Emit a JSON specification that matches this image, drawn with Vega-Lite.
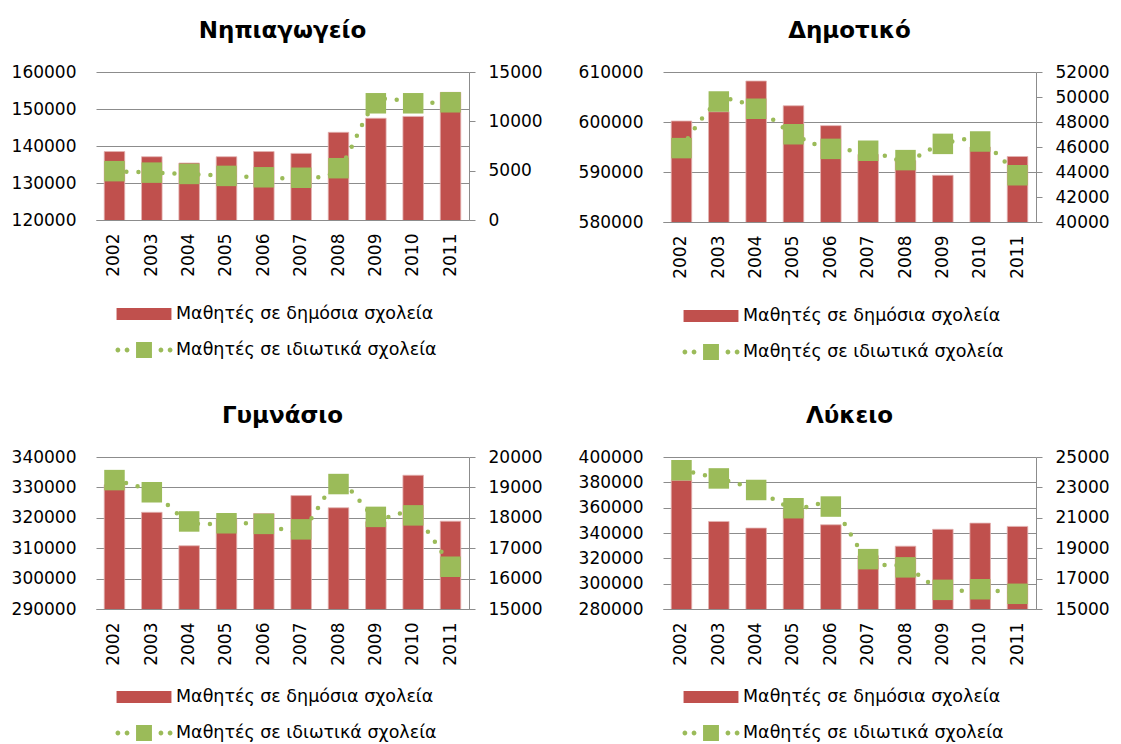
{
  "$schema": "https://vega.github.io/schema/vega-lite/v6.json",
  "background": "white",
  "padding": {"left": 11, "top": 20, "right": 4, "bottom": 0},
  "data": {"values": [
    {"level": "Νηπιαγωγείο", "year": "2002", "pub": 138500, "priv": 4950},
    {"level": "Νηπιαγωγείο", "year": "2003", "pub": 137100, "priv": 4800},
    {"level": "Νηπιαγωγείο", "year": "2004", "pub": 135400, "priv": 4670},
    {"level": "Νηπιαγωγείο", "year": "2005", "pub": 137100, "priv": 4470},
    {"level": "Νηπιαγωγείο", "year": "2006", "pub": 138500, "priv": 4330},
    {"level": "Νηπιαγωγείο", "year": "2007", "pub": 138000, "priv": 4280},
    {"level": "Νηπιαγωγείο", "year": "2008", "pub": 143700, "priv": 5250},
    {"level": "Νηπιαγωγείο", "year": "2009", "pub": 147500, "priv": 11830},
    {"level": "Νηπιαγωγείο", "year": "2010", "pub": 148000, "priv": 11830},
    {"level": "Νηπιαγωγείο", "year": "2011", "pub": 154500, "priv": 11930},
    {"level": "Δημοτικό", "year": "2002", "pub": 600200, "priv": 45910},
    {"level": "Δημοτικό", "year": "2003", "pub": 602050, "priv": 49640},
    {"level": "Δημοτικό", "year": "2004", "pub": 608200, "priv": 49060},
    {"level": "Δημοτικό", "year": "2005", "pub": 603250, "priv": 47020},
    {"level": "Δημοτικό", "year": "2006", "pub": 599270, "priv": 45850},
    {"level": "Δημοτικό", "year": "2007", "pub": 593500, "priv": 45700},
    {"level": "Δημοτικό", "year": "2008", "pub": 592300, "priv": 44950},
    {"level": "Δημοτικό", "year": "2009", "pub": 589340, "priv": 46250},
    {"level": "Δημοτικό", "year": "2010", "pub": 595000, "priv": 46440},
    {"level": "Δημοτικό", "year": "2011", "pub": 593100, "priv": 43740},
    {"level": "Γυμνάσιο", "year": "2002", "pub": 330900, "priv": 19240},
    {"level": "Γυμνάσιο", "year": "2003", "pub": 321800, "priv": 18840},
    {"level": "Γυμνάσιο", "year": "2004", "pub": 310800, "priv": 17880},
    {"level": "Γυμνάσιο", "year": "2005", "pub": 319700, "priv": 17820},
    {"level": "Γυμνάσιο", "year": "2006", "pub": 321400, "priv": 17800},
    {"level": "Γυμνάσιο", "year": "2007", "pub": 327300, "priv": 17620},
    {"level": "Γυμνάσιο", "year": "2008", "pub": 323300, "priv": 19110},
    {"level": "Γυμνάσιο", "year": "2009", "pub": 318700, "priv": 18030},
    {"level": "Γυμνάσιο", "year": "2010", "pub": 334000, "priv": 18080},
    {"level": "Γυμνάσιο", "year": "2011", "pub": 318900, "priv": 16390},
    {"level": "Λύκειο", "year": "2002", "pub": 381700, "priv": 24130},
    {"level": "Λύκειο", "year": "2003", "pub": 349100, "priv": 23590},
    {"level": "Λύκειο", "year": "2004", "pub": 343900, "priv": 22830},
    {"level": "Λύκειο", "year": "2005", "pub": 358500, "priv": 21630},
    {"level": "Λύκειο", "year": "2006", "pub": 346500, "priv": 21740},
    {"level": "Λύκειο", "year": "2007", "pub": 322000, "priv": 18280},
    {"level": "Λύκειο", "year": "2008", "pub": 329600, "priv": 17740},
    {"level": "Λύκειο", "year": "2009", "pub": 342900, "priv": 16260},
    {"level": "Λύκειο", "year": "2010", "pub": 347800, "priv": 16300},
    {"level": "Λύκειο", "year": "2011", "pub": 345200, "priv": 16000}
  ]},
  "columns": 2,
  "spacing": {"row": 44, "column": 35},
  "concat": [
    {
      "title": "Νηπιαγωγείο",
      "width": 373, "height": 148,
      "transform": [{"filter": "datum.level == 'Νηπιαγωγείο'"}],
      "encoding": {"x": {"field": "year", "type": "ordinal", "title": null, "scale": {"paddingInner": 0.45, "paddingOuter": 0.22}, "axis": {"labelAngle": -90, "domainColor": "#8C8C8C", "ticks": false, "labelPadding": 13}}},
      "layer": [
        {"mark": {"type": "bar", "color": "#C0504D", "stroke": "#E3B4B3", "strokeWidth": 0.8, "clip": true},
         "encoding": {"y": {"field": "pub", "type": "quantitative", "title": null, "scale": {"domain": [120000, 160000], "zero": false, "nice": false}, "axis": {"values": [120000, 130000, 140000, 150000, 160000], "format": "d", "grid": true, "domain": false, "ticks": false, "gridColor": "#8C8C8C", "labelPadding": 20}}}},
        {"encoding": {"y": {"field": "priv", "type": "quantitative", "title": null, "scale": {"domain": [0, 15000], "zero": false, "nice": false}, "axis": {"orient": "right", "values": [0, 5000, 10000, 15000], "format": "d", "grid": false, "domainColor": "#8C8C8C", "tickColor": "#8C8C8C", "tickSize": 6, "labelPadding": 13}}},
         "layer": [
           {"mark": {"type": "line", "color": "#9BBB59", "strokeWidth": 4.5, "strokeDash": [0, 12], "strokeCap": "round", "interpolate": "cardinal"}},
           {"mark": {"type": "point", "shape": "square", "filled": true, "size": 420, "color": "#9BBB59", "opacity": 1}},
           {"transform": [{"filter": "false"}], "mark": {"type": "point", "filled": true},
            "encoding": {
              "color": {"datum": "Μαθητές σε δημόσια σχολεία", "type": "nominal", "scale": {"domain": ["Μαθητές σε δημόσια σχολεία", "Μαθητές σε ιδιωτικά σχολεία"], "range": ["#C0504D", "#9BBB59"]}, "legend": {"title": null, "orient": "bottom", "direction": "vertical", "offset": 22}},
              "shape": {"datum": "Μαθητές σε δημόσια σχολεία", "type": "nominal", "scale": {"domain": ["Μαθητές σε δημόσια σχολεία", "Μαθητές σε ιδιωτικά σχολεία"], "range": ["M-1.83,-0.4H1.83V0.4H-1.83Z", "M-0.53,-0.53H0.53V0.53H-0.53Z M-1.9,0a0.16,0.16 0 1,0 0.32,0a0.16,0.16 0 1,0 -0.32,0Z M-1.29,0a0.16,0.16 0 1,0 0.32,0a0.16,0.16 0 1,0 -0.32,0Z M0.97,0a0.16,0.16 0 1,0 0.32,0a0.16,0.16 0 1,0 -0.32,0Z M1.58,0a0.16,0.16 0 1,0 0.32,0a0.16,0.16 0 1,0 -0.32,0Z"]}, "legend": {"title": null, "orient": "bottom", "direction": "vertical", "offset": 22}}
            }}
         ]}
      ],
      "resolve": {"scale": {"y": "independent"}}
    },
    {
      "title": "Δημοτικό",
      "width": 373, "height": 150,
      "transform": [{"filter": "datum.level == 'Δημοτικό'"}],
      "encoding": {"x": {"field": "year", "type": "ordinal", "title": null, "scale": {"paddingInner": 0.45, "paddingOuter": 0.22}, "axis": {"labelAngle": -90, "domainColor": "#8C8C8C", "ticks": false, "labelPadding": 13}}},
      "layer": [
        {"mark": {"type": "bar", "color": "#C0504D", "stroke": "#E3B4B3", "strokeWidth": 0.8, "clip": true},
         "encoding": {"y": {"field": "pub", "type": "quantitative", "title": null, "scale": {"domain": [580000, 610000], "zero": false, "nice": false}, "axis": {"values": [580000, 590000, 600000, 610000], "format": "d", "grid": true, "domain": false, "ticks": false, "gridColor": "#8C8C8C", "labelPadding": 20}}}},
        {"encoding": {"y": {"field": "priv", "type": "quantitative", "title": null, "scale": {"domain": [40000, 52000], "zero": false, "nice": false}, "axis": {"orient": "right", "values": [40000, 42000, 44000, 46000, 48000, 50000, 52000], "format": "d", "grid": false, "domainColor": "#8C8C8C", "tickColor": "#8C8C8C", "tickSize": 6, "labelPadding": 13}}},
         "layer": [
           {"mark": {"type": "line", "color": "#9BBB59", "strokeWidth": 4.5, "strokeDash": [0, 12], "strokeCap": "round", "interpolate": "cardinal"}},
           {"mark": {"type": "point", "shape": "square", "filled": true, "size": 420, "color": "#9BBB59", "opacity": 1}},
           {"transform": [{"filter": "false"}], "mark": {"type": "point", "filled": true},
            "encoding": {
              "color": {"datum": "Μαθητές σε δημόσια σχολεία", "type": "nominal", "scale": {"domain": ["Μαθητές σε δημόσια σχολεία", "Μαθητές σε ιδιωτικά σχολεία"], "range": ["#C0504D", "#9BBB59"]}, "legend": {"title": null, "orient": "bottom", "direction": "vertical", "offset": 22}},
              "shape": {"datum": "Μαθητές σε δημόσια σχολεία", "type": "nominal", "scale": {"domain": ["Μαθητές σε δημόσια σχολεία", "Μαθητές σε ιδιωτικά σχολεία"], "range": ["M-1.83,-0.4H1.83V0.4H-1.83Z", "M-0.53,-0.53H0.53V0.53H-0.53Z M-1.9,0a0.16,0.16 0 1,0 0.32,0a0.16,0.16 0 1,0 -0.32,0Z M-1.29,0a0.16,0.16 0 1,0 0.32,0a0.16,0.16 0 1,0 -0.32,0Z M0.97,0a0.16,0.16 0 1,0 0.32,0a0.16,0.16 0 1,0 -0.32,0Z M1.58,0a0.16,0.16 0 1,0 0.32,0a0.16,0.16 0 1,0 -0.32,0Z"]}, "legend": {"title": null, "orient": "bottom", "direction": "vertical", "offset": 22}}
            }}
         ]}
      ],
      "resolve": {"scale": {"y": "independent"}}
    },
    {
      "title": "Γυμνάσιο",
      "width": 373, "height": 152,
      "transform": [{"filter": "datum.level == 'Γυμνάσιο'"}],
      "encoding": {"x": {"field": "year", "type": "ordinal", "title": null, "scale": {"paddingInner": 0.45, "paddingOuter": 0.22}, "axis": {"labelAngle": -90, "domainColor": "#8C8C8C", "ticks": false, "labelPadding": 13}}},
      "layer": [
        {"mark": {"type": "bar", "color": "#C0504D", "stroke": "#E3B4B3", "strokeWidth": 0.8, "clip": true},
         "encoding": {"y": {"field": "pub", "type": "quantitative", "title": null, "scale": {"domain": [290000, 340000], "zero": false, "nice": false}, "axis": {"values": [290000, 300000, 310000, 320000, 330000, 340000], "format": "d", "grid": true, "domain": false, "ticks": false, "gridColor": "#8C8C8C", "labelPadding": 20}}}},
        {"encoding": {"y": {"field": "priv", "type": "quantitative", "title": null, "scale": {"domain": [15000, 20000], "zero": false, "nice": false}, "axis": {"orient": "right", "values": [15000, 16000, 17000, 18000, 19000, 20000], "format": "d", "grid": false, "domainColor": "#8C8C8C", "tickColor": "#8C8C8C", "tickSize": 6, "labelPadding": 13}}},
         "layer": [
           {"mark": {"type": "line", "color": "#9BBB59", "strokeWidth": 4.5, "strokeDash": [0, 12], "strokeCap": "round", "interpolate": "cardinal"}},
           {"mark": {"type": "point", "shape": "square", "filled": true, "size": 420, "color": "#9BBB59", "opacity": 1}},
           {"transform": [{"filter": "false"}], "mark": {"type": "point", "filled": true},
            "encoding": {
              "color": {"datum": "Μαθητές σε δημόσια σχολεία", "type": "nominal", "scale": {"domain": ["Μαθητές σε δημόσια σχολεία", "Μαθητές σε ιδιωτικά σχολεία"], "range": ["#C0504D", "#9BBB59"]}, "legend": {"title": null, "orient": "bottom", "direction": "vertical", "offset": 16}},
              "shape": {"datum": "Μαθητές σε δημόσια σχολεία", "type": "nominal", "scale": {"domain": ["Μαθητές σε δημόσια σχολεία", "Μαθητές σε ιδιωτικά σχολεία"], "range": ["M-1.83,-0.4H1.83V0.4H-1.83Z", "M-0.53,-0.53H0.53V0.53H-0.53Z M-1.9,0a0.16,0.16 0 1,0 0.32,0a0.16,0.16 0 1,0 -0.32,0Z M-1.29,0a0.16,0.16 0 1,0 0.32,0a0.16,0.16 0 1,0 -0.32,0Z M0.97,0a0.16,0.16 0 1,0 0.32,0a0.16,0.16 0 1,0 -0.32,0Z M1.58,0a0.16,0.16 0 1,0 0.32,0a0.16,0.16 0 1,0 -0.32,0Z"]}, "legend": {"title": null, "orient": "bottom", "direction": "vertical", "offset": 16}}
            }}
         ]}
      ],
      "resolve": {"scale": {"y": "independent"}}
    },
    {
      "title": "Λύκειο",
      "width": 373, "height": 152,
      "transform": [{"filter": "datum.level == 'Λύκειο'"}],
      "encoding": {"x": {"field": "year", "type": "ordinal", "title": null, "scale": {"paddingInner": 0.45, "paddingOuter": 0.22}, "axis": {"labelAngle": -90, "domainColor": "#8C8C8C", "ticks": false, "labelPadding": 13}}},
      "layer": [
        {"mark": {"type": "bar", "color": "#C0504D", "stroke": "#E3B4B3", "strokeWidth": 0.8, "clip": true},
         "encoding": {"y": {"field": "pub", "type": "quantitative", "title": null, "scale": {"domain": [280000, 400000], "zero": false, "nice": false}, "axis": {"values": [280000, 300000, 320000, 340000, 360000, 380000, 400000], "format": "d", "grid": true, "domain": false, "ticks": false, "gridColor": "#8C8C8C", "labelPadding": 20}}}},
        {"encoding": {"y": {"field": "priv", "type": "quantitative", "title": null, "scale": {"domain": [15000, 25000], "zero": false, "nice": false}, "axis": {"orient": "right", "values": [15000, 17000, 19000, 21000, 23000, 25000], "format": "d", "grid": false, "domainColor": "#8C8C8C", "tickColor": "#8C8C8C", "tickSize": 6, "labelPadding": 13}}},
         "layer": [
           {"mark": {"type": "line", "color": "#9BBB59", "strokeWidth": 4.5, "strokeDash": [0, 12], "strokeCap": "round", "interpolate": "cardinal"}},
           {"mark": {"type": "point", "shape": "square", "filled": true, "size": 420, "color": "#9BBB59", "opacity": 1}},
           {"transform": [{"filter": "false"}], "mark": {"type": "point", "filled": true},
            "encoding": {
              "color": {"datum": "Μαθητές σε δημόσια σχολεία", "type": "nominal", "scale": {"domain": ["Μαθητές σε δημόσια σχολεία", "Μαθητές σε ιδιωτικά σχολεία"], "range": ["#C0504D", "#9BBB59"]}, "legend": {"title": null, "orient": "bottom", "direction": "vertical", "offset": 16}},
              "shape": {"datum": "Μαθητές σε δημόσια σχολεία", "type": "nominal", "scale": {"domain": ["Μαθητές σε δημόσια σχολεία", "Μαθητές σε ιδιωτικά σχολεία"], "range": ["M-1.83,-0.4H1.83V0.4H-1.83Z", "M-0.53,-0.53H0.53V0.53H-0.53Z M-1.9,0a0.16,0.16 0 1,0 0.32,0a0.16,0.16 0 1,0 -0.32,0Z M-1.29,0a0.16,0.16 0 1,0 0.32,0a0.16,0.16 0 1,0 -0.32,0Z M0.97,0a0.16,0.16 0 1,0 0.32,0a0.16,0.16 0 1,0 -0.32,0Z M1.58,0a0.16,0.16 0 1,0 0.32,0a0.16,0.16 0 1,0 -0.32,0Z"]}, "legend": {"title": null, "orient": "bottom", "direction": "vertical", "offset": 16}}
            }}
         ]}
      ],
      "resolve": {"scale": {"y": "independent"}}
    }
  ],
  "resolve": {"scale": {"color": "independent", "shape": "independent"}, "legend": {"color": "independent", "shape": "independent"}},
  "config": {
    "font": "DejaVu Sans",
    "view": {"stroke": null},
    "axis": {"labelFont": "DejaVu Sans", "labelFontSize": 17, "labelColor": "#000000"},
    "title": {"font": "DejaVu Sans", "fontSize": 23, "fontWeight": "bold", "color": "#000000", "offset": 20},
    "legend": {"labelFont": "DejaVu Sans", "labelFontSize": 17.5, "labelColor": "#000000", "labelLimit": 0, "symbolSize": 900, "symbolStrokeWidth": 0, "symbolOpacity": 1, "labelOffset": 17, "rowPadding": 12, "offset": 22, "layout": {"bottom": {"anchor": "middle"}}}
  }
}
